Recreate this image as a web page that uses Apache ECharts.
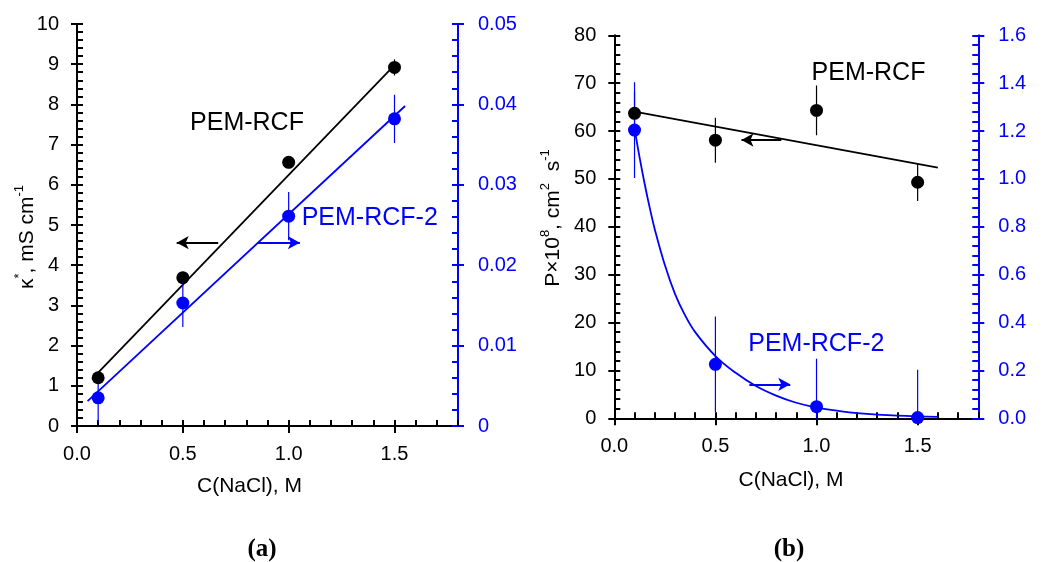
<!DOCTYPE html>
<html>
<head>
<meta charset="utf-8">
<script src="https://cdn.jsdelivr.net/npm/echarts@6/dist/echarts.min.js"></script>
<style>
html,body{margin:0;padding:0;background:#fff;}
#main{width:1048px;height:562px;}
</style>
</head>
<body>
<div id="main"></div>
<script>
// ---------------- data ----------------
const conc = [0.1, 0.5, 1.0, 1.5];
// (a) conductivity
const kappaRCF = [1.20, 3.69, 6.56, 8.92];
const kappaRCFErr = [0.15, 0.15, 0.15, 0.2];
const kappaRCF2 = [0.0035, 0.0153, 0.0261, 0.0382];
const kappaRCF2Err = [0.003, 0.003, 0.003, 0.003];
const fitKappaRCF = [[0.1, 1.33], [1.5, 8.98]];
const fitKappaRCF2 = [[0.05, 0.0031], [1.55, 0.0398]];
// (b) permeability
const permRCF = [63.7, 58.1, 64.3, 49.3];
const permRCFErr = [4.5, 4.7, 5.2, 3.9];
const permRCF2 = [1.204, 0.2255, 0.0485, 0.003];
const permRCF2Err = [0.2, 0.2, 0.2, 0.2];
const fitPermRCF = [[0.1, 64.05], [1.6, 52.35]];
const fitPermRCF2 = [[0.1, 1.21], [0.125, 1.09], [0.15, 0.98], [0.175, 0.88], [0.2, 0.79],
  [0.25, 0.64], [0.3, 0.52], [0.35, 0.43], [0.4, 0.36], [0.5, 0.26], [0.6, 0.19],
  [0.7, 0.135], [0.8, 0.095], [0.9, 0.065], [1.0, 0.045], [1.1, 0.032], [1.2, 0.022],
  [1.4, 0.011], [1.6, 0.006]];
// annotations (data coordinates)
const arrowA_black = [[0.667, 4.56], [0.471, 4.56]];
const arrowA_blue = [[0.856, 0.0228], [1.053, 0.0228]];
const arrowB_black = [[0.826, 58.13], [0.629, 58.13]];
const arrowB_blue = [[0.668, 0.142], [0.870, 0.142]];
const labelsA = [{name: 'PEM-RCF', pos: [0.803, 7.54], color: '#000000'}, {name: 'PEM-RCF-2', pos: [1.383, 5.17], color: '#0000ff'}];
const labelsB = [{name: 'PEM-RCF', pos: [1.257, 72.1], color: '#000000'}, {name: 'PEM-RCF-2', pos: [0.999, 15.5], color: '#0000ff'}];
const xLabelTicks = [0, 0.5, 1.0, 1.5];

// ---------------- style helpers ----------------
const FONT = 'Liberation Sans, Arial, sans-serif';
const BLUE = '#0000ff';
const BLACK = '#000000';

function pts(xs, ys) { return xs.map((x, i) => [x, ys[i]]); }
function errs(xs, ys, es) { return xs.map((x, i) => [x, ys[i] - es[i], ys[i] + es[i]]); }

function xAxes(gridIndex) {
  return [
    {
      type: 'value', gridIndex, min: 0, max: 1.8, interval: 0.1, position: 'bottom',
      axisLine: {onZero: false, lineStyle: {color: BLACK, width: 2}},
      axisTick: {inside: true, length: 6, lineStyle: {color: BLACK, width: 2}},
      axisLabel: {
        color: BLACK, fontSize: 20, fontFamily: FONT, margin: 18,
        formatter: v => {
          const ok = xLabelTicks.some(t => Math.abs(t - v) < 1e-6);
          return ok ? v.toFixed(1) : '';
        }
      },
      splitLine: {show: false}
    },
    {
      type: 'value', gridIndex, min: 0, max: 1.8, interval: 0.5, position: 'bottom',
      axisLine: {show: false, onZero: false},
      axisTick: {inside: false, length: 7, customValues: xLabelTicks, lineStyle: {color: BLACK, width: 2}},
      axisLabel: {show: false},
      splitLine: {show: false}
    }
  ];
}

function yAxisPair(gridIndex, pos, min, max, interval, color, margin, fmt) {
  return [
    {
      type: 'value', gridIndex, position: pos, min, max, interval,
      axisLine: {show: true, lineStyle: {color, width: 2}},
      axisTick: {show: true, inside: true, length: 6, lineStyle: {color, width: 2}},
      minorTick: {show: true, splitNumber: 5, length: 6, lineStyle: {color, width: 2}},
      axisLabel: {color, fontSize: 20, fontFamily: FONT, margin, formatter: fmt},
      splitLine: {show: false}, minorSplitLine: {show: false}
    },
    {
      type: 'value', gridIndex, position: pos, min, max, interval,
      axisLine: {show: false},
      axisTick: {show: true, inside: false, length: 6, lineStyle: {color, width: 2}},
      axisLabel: {show: false},
      splitLine: {show: false}
    }
  ];
}

function errSeries(xi, yi, data, color) {
  return {
    type: 'custom', xAxisIndex: xi, yAxisIndex: yi, clip: true, z: 3,
    data,
    renderItem: (params, api) => {
      const p1 = api.coord([api.value(0), api.value(1)]);
      const p2 = api.coord([api.value(0), api.value(2)]);
      return {type: 'line', shape: {x1: p1[0], y1: p1[1], x2: p2[0], y2: p2[1]},
        style: {stroke: color, lineWidth: 1.2}};
    }
  };
}

function fitSeries(xi, yi, data, color, arrow, smooth) {
  return {
    type: 'line', xAxisIndex: xi, yAxisIndex: yi, data, smooth: smooth ? 0.4 : false,
    showSymbol: false, symbol: 'none', z: 2,
    lineStyle: {color, width: 1.8},
    markLine: {
      silent: true, symbol: ['none', 'arrow'], symbolSize: [10, 12],
      label: {show: false},
      lineStyle: {color, width: 1.8, type: 'solid'},
      data: [[{coord: arrow[0]}, {coord: arrow[1]}]]
    }
  };
}

function pointSeries(xi, yi, data, color) {
  return {
    type: 'scatter', xAxisIndex: xi, yAxisIndex: yi, data, symbol: 'circle', symbolSize: 13,
    itemStyle: {color, opacity: 1}, z: 5
  };
}

function labelSeries(xi, yi, labels) {
  return {
    type: 'scatter', xAxisIndex: xi, yAxisIndex: yi, symbolSize: 0, z: 6, silent: true,
    itemStyle: {opacity: 1},
    data: labels.map(l => ({
      value: l.pos, name: l.name,
      label: {show: true, position: 'inside', formatter: '{b}', color: l.color, opacity: 1,
        fontSize: 25, fontFamily: FONT}
    }))
  };
}

const rich = {
  m: {fontSize: 21, fontFamily: FONT, color: BLACK, lineHeight: 28},
  s: {fontSize: 13, fontFamily: FONT, color: BLACK, lineHeight: 14, verticalAlign: 'top'}
};

const option = {
  animation: false,
  backgroundColor: '#ffffff',
  grid: [
    {left: 77, top: 24, width: 381, height: 402},
    {left: 614.3, top: 35.3, width: 364, height: 383}
  ],
  xAxis: [...xAxes(0), ...xAxes(1)],
  yAxis: [
    ...yAxisPair(0, 'left', 0, 10, 1, BLACK, 18, v => String(v)),
    ...yAxisPair(0, 'right', 0, 0.05, 0.01, BLUE, 20, v => (v === 0 ? '0' : String(+v.toFixed(2)))),
    ...yAxisPair(1, 'left', 0, 80, 10, BLACK, 18, v => String(v)),
    ...yAxisPair(1, 'right', 0, 1.6, 0.2, BLUE, 20, v => v.toFixed(1))
  ],
  series: [
    // (a)
    fitSeries(0, 0, fitKappaRCF, BLACK, arrowA_black),
    fitSeries(0, 2, fitKappaRCF2, BLUE, arrowA_blue),
    errSeries(0, 0, errs(conc, kappaRCF, kappaRCFErr), BLACK),
    errSeries(0, 2, errs(conc, kappaRCF2, kappaRCF2Err), BLUE),
    pointSeries(0, 0, pts(conc, kappaRCF), BLACK),
    pointSeries(0, 2, pts(conc, kappaRCF2), BLUE),
    labelSeries(0, 0, labelsA),
    // (b)
    fitSeries(2, 4, fitPermRCF, BLACK, arrowB_black),
    fitSeries(2, 6, fitPermRCF2, BLUE, arrowB_blue, true),
    errSeries(2, 4, errs(conc, permRCF, permRCFErr), BLACK),
    errSeries(2, 6, errs(conc, permRCF2, permRCF2Err), BLUE),
    pointSeries(2, 4, pts(conc, permRCF), BLACK),
    pointSeries(2, 6, pts(conc, permRCF2), BLUE),
    labelSeries(2, 4, labelsB)
  ],
  graphic: [
    {type: 'text', x: 27, y: 237, rotation: Math.PI / 2,
      style: {text: '{m|κ}{s|*}{m|, mS cm}{s|-1}', rich, align: 'center', verticalAlign: 'middle'}},
    {type: 'text', x: 553, y: 218, rotation: Math.PI / 2,
      style: {text: '{m|P×10}{s|8}{m|, cm}{s|2}{m|  s}{s|-1}', rich, align: 'center', verticalAlign: 'middle'}},
    {type: 'text', x: 249.5, y: 486,
      style: {text: 'C(NaCl), M', fontSize: 21, fontFamily: FONT, fill: BLACK, align: 'center', verticalAlign: 'middle'}},
    {type: 'text', x: 791, y: 480,
      style: {text: 'C(NaCl), M', fontSize: 21, fontFamily: FONT, fill: BLACK, align: 'center', verticalAlign: 'middle'}},
    {type: 'text', x: 262, y: 550,
      style: {text: '(a)', fontSize: 25, fontWeight: 'bold', fontFamily: 'Liberation Serif, serif', fill: BLACK, align: 'center', verticalAlign: 'middle'}},
    {type: 'text', x: 789, y: 550,
      style: {text: '(b)', fontSize: 25, fontWeight: 'bold', fontFamily: 'Liberation Serif, serif', fill: BLACK, align: 'center', verticalAlign: 'middle'}}
  ]
};

const chart = echarts.init(document.getElementById('main'), null, {renderer: 'canvas'});
chart.setOption(option);
</script>
</body>
</html>
